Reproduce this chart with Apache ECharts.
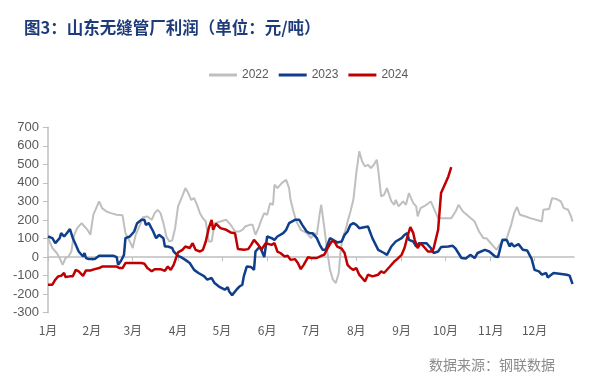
<!DOCTYPE html>
<html>
<head>
<meta charset="utf-8">
<script src="https://cdn.jsdelivr.net/npm/echarts@6/dist/echarts.min.js"></script>
<style>
html,body{margin:0;padding:0;background:#fff;}
#c{width:600px;height:390px;}
</style>
</head>
<body>
<div id="c"></div>
<script>
// Month tick positions (day of year) and labels
var monthDays = [1, 31, 59, 90, 120, 151, 181, 212, 243, 273, 304, 334];
var monthLabels = ['1月','2月','3月','4月','5月','6月','7月','8月','9月','10月','11月','12月'];
var yTicks = [-300, -200, -100, 0, 100, 200, 300, 400, 500, 600, 700];

// 2022 (day of year, profit yuan/ton)
var days2022 = [1,4,7,9,11,13,15,17,18,19,21,24,26,28,30,32,34,36,38,41,44,48,52,54,57,59,61,64,66,69,72,74,76,78,80,82,84,86,88,90,93,95,97,99,101,103,105,107,109,111,113,115,119,123,126,129,132,134,136,139,141,143,145,147,149,151,153,155,156,158,161,164,166,167,169,171,174,176,178,181,183,185,187,188,190,192,194,196,198,200,201,202,203,205,206,208,210,212,214,216,218,220,222,224,226,227,229,231,233,236,238,239,241,244,246,248,251,253,254,256,260,263,265,268,277,280,282,285,289,293,296,299,301,303,305,308,310,312,315,318,320,322,324,328,331,335,339,340,344,346,349,352,354,357,359,360];
var vals2022 = [102,49,22,-5,-42,-5,3,30,84,120,156,183,165,147,120,228,264,300,264,246,237,228,225,129,84,49,120,174,215,219,201,237,255,237,183,111,84,90,156,273,330,372,345,309,318,282,237,210,192,84,84,183,192,201,174,138,138,147,165,174,174,120,156,201,237,228,291,282,390,372,399,417,372,309,246,192,147,138,129,102,129,120,237,282,165,39,-69,-122,-140,-86,12,75,111,156,190,246,309,453,570,516,489,498,480,498,525,471,327,336,372,300,282,309,273,300,282,345,291,273,219,264,282,300,264,210,210,246,282,246,219,192,138,102,102,84,66,39,66,84,102,174,237,270,228,219,210,201,192,255,259,318,313,300,264,255,219,192];

// 2023
var days2023 = [1,4,6,9,10,12,14,16,18,20,22,25,26,27,29,33,36,46,48,49,51,53,54,57,60,62,65,67,68,70,73,75,77,80,81,83,86,87,90,92,95,98,101,104,108,110,113,115,118,122,124,125,127,128,130,132,134,135,137,138,140,142,143,146,147,149,151,154,156,158,162,164,166,170,173,175,178,180,182,185,187,189,191,194,196,199,202,204,206,208,210,212,214,215,220,223,227,231,233,236,239,243,245,247,248,251,253,255,260,263,265,268,270,275,278,280,284,287,290,293,295,300,303,307,309,312,315,317,318,320,323,326,329,332,334,337,339,342,343,347,351,356,358,360];
var vals2023 = [111,102,75,102,129,111,130,151,102,66,30,3,22,-5,-11,-11,7,7,0,-42,-20,12,102,111,138,183,201,201,174,183,138,102,120,102,57,57,49,30,7,0,-15,-32,-69,-86,-104,-122,-113,-140,-159,-176,-162,-186,-205,-212,-176,-159,-149,-104,-51,-59,-54,-69,30,57,66,0,111,102,93,111,129,147,183,201,201,174,138,129,129,102,66,39,39,102,93,79,84,120,138,174,183,174,156,165,165,102,39,22,12,57,84,102,120,129,93,84,57,75,75,49,22,30,54,57,61,45,-5,-8,12,-5,22,39,30,3,0,93,92,57,75,57,70,40,35,-10,-69,-77,-95,-86,-110,-86,-90,-95,-100,-145];

// 2024
var days2024 = [1,4,6,8,10,12,13,16,18,20,22,25,27,30,33,36,38,48,50,52,54,65,67,69,72,74,78,81,83,85,87,90,93,95,98,100,102,105,107,109,111,113,114,116,119,123,126,129,131,135,138,140,142,145,147,150,154,156,158,160,163,165,167,170,172,174,176,179,181,185,188,190,193,195,197,199,202,204,206,208,210,212,214,216,218,220,223,227,229,231,235,238,240,243,245,247,249,251,252,254,256,259,261,264,265,268,270,272,275,277];
var vals2024 = [-149,-149,-122,-104,-101,-86,-108,-104,-104,-69,-77,-101,-72,-72,-65,-59,-51,-51,-59,-59,-32,-32,-36,-59,-77,-65,-65,-74,-51,-69,-42,25,39,57,49,75,39,30,39,84,156,201,147,180,156,147,133,129,43,39,43,66,93,66,39,75,66,75,30,22,3,7,-15,-11,-32,-65,-42,0,-5,-5,7,12,57,84,84,57,45,22,-42,-59,-69,-59,-95,-113,-131,-95,-104,-95,-77,-86,-51,-24,-11,12,49,111,162,129,93,49,75,49,30,30,49,147,345,381,435,485];

function pairs(d, v) { return d.map(function (x, i) { return [x, v[i]]; }); }

var chart = echarts.init(document.getElementById('c'), null, { renderer: 'canvas' });
var axisGray = '#BFBFBF';
var labelGray = '#595959';

chart.setOption({
  backgroundColor: '#ffffff',
  animation: false,
  title: {
    text: '图3：山东无缝管厂利润（单位：元/吨）',
    left: 19, top: 14,
    textStyle: { fontFamily: 'Noto Sans CJK SC', fontSize: 16.5, fontWeight: 'bold', color: '#1F3C7A' }
  },
  graphic: [{
    type: 'text', right: 45, top: 358,
    style: { text: '数据来源：钢联数据', fontFamily: 'Noto Sans CJK SC', fontSize: 14, fill: '#8C8C8C' }
  }],
  legend: {
    left: 204, top: 64, icon: 'rect', itemWidth: 28, itemHeight: 3, itemGap: 10,
    textStyle: { fontFamily: 'Liberation Sans', fontSize: 12, color: labelGray },
    data: ['2022', '2023', '2024']
  },
  grid: { left: 48, right: 26, top: 127.3, bottom: 77.3, containLabel: false },
  xAxis: [{
    type: 'value', min: 1, max: 361,
    axisLine: { show: true, onZero: true, lineStyle: { color: axisGray, width: 1.5 } },
    axisTick: { show: true, customValues: monthDays, length: 4, lineStyle: { color: axisGray, width: 1 } },
    axisLabel: { show: false },
    splitLine: { show: false }
  }, {
    type: 'value', min: 1, max: 361, position: 'bottom',
    axisLine: { show: false, onZero: false },
    axisTick: { show: false },
    axisLabel: {
      show: true, customValues: monthDays, margin: 12,
      fontFamily: 'Noto Sans CJK SC', fontSize: 12, color: labelGray,
      formatter: function (v) { var i = monthDays.indexOf(v); return i >= 0 ? monthLabels[i] : ''; }
    },
    splitLine: { show: false }
  }],
  yAxis: {
    type: 'value', min: yTicks[0], max: yTicks[yTicks.length - 1], interval: 100,
    axisLine: { show: true, lineStyle: { color: axisGray, width: 1.5 } },
    axisTick: { show: true, length: 5, lineStyle: { color: axisGray } },
    axisLabel: { margin: 9, fontFamily: 'Liberation Sans', fontSize: 13, color: labelGray },
    splitLine: { show: false }
  },
  series: [{
    name: '2022', type: 'line', xAxisIndex: 0, showSymbol: false, symbol: 'none',
    data: pairs(days2022, vals2022),
    lineStyle: { color: '#BFBFBF', width: 2 }, itemStyle: { color: '#BFBFBF' }
  }, {
    name: '2023', type: 'line', xAxisIndex: 0, showSymbol: false, symbol: 'none',
    data: pairs(days2023, vals2023),
    lineStyle: { color: '#0F3E8A', width: 2.5 }, itemStyle: { color: '#0F3E8A' }
  }, {
    name: '2024', type: 'line', xAxisIndex: 0, showSymbol: false, symbol: 'none',
    data: pairs(days2024, vals2024),
    lineStyle: { color: '#C00000', width: 2.5 }, itemStyle: { color: '#C00000' }
  }]
});
</script>
</body>
</html>
